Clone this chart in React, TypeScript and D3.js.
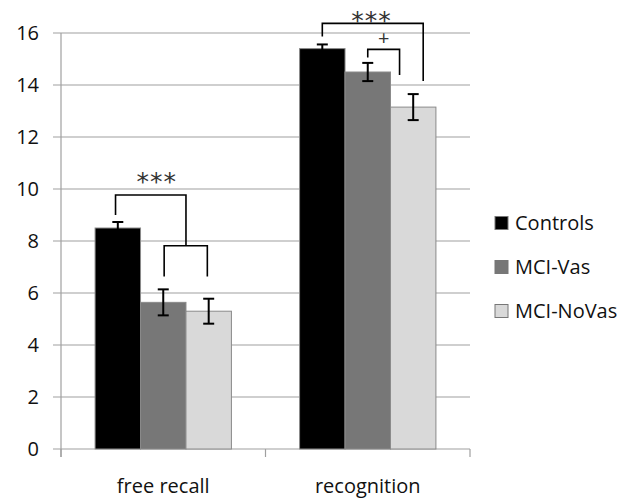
import React from 'react';
import * as d3 from 'd3';

const groups = ['free recall', 'recognition'];
const series = ['Controls', 'MCI-Vas', 'MCI-NoVas'];
const means = [
    [8.5, 5.64, 5.3],
    [15.4, 14.5, 13.15],
];
const errors = [
    [0.23, 0.5, 0.48],
    [0.16, 0.35, 0.5],
];
const yTicks = [0, 2, 4, 6, 8, 10, 12, 14, 16];
const colors = ['#000000', '#777777', '#d9d9d9'];

// significance brackets: ends given as [series, fraction of bar width], heights in data units
const brackets = [
    {group: 0, from: [0, 0.45], to: [1, 1.0], top: 9.77, leftEnd: 9.0, rightEnd: 7.82, label: '***', labelY: 10.45, labelShift: 0.13},
    {group: 0, from: [1, 0.52], to: [2, 0.47], top: 7.82, leftEnd: 6.63, rightEnd: 6.63, label: '', labelY: 0, labelShift: 0},
    {group: 1, from: [0, 0.5], to: [2, 0.72], top: 16.37, leftEnd: 15.87, rightEnd: 14.15, label: '***', labelY: 16.62, labelShift: -0.03},
    {group: 1, from: [1, 0.5], to: [2, 0.2], top: 15.37, leftEnd: 15.06, rightEnd: 14.38, label: '+', labelY: 15.83, labelShift: 0},
];

const W = 634;
const H = 498;
const margin = {left: 61, right: 164, top: 33, bottom: 49};
const font = '"Open Sans", sans-serif';

const App: React.FC = () => {
    const x0 = d3.scaleBand<string>()
        .domain(groups)
        .range([margin.left, W - margin.right]);
    // Excel style gap width of 150%
    const barW = x0.bandwidth() / (series.length + 1.5);
    const x1 = (s: number) => barW * 0.75 + s * barW;
    const y = d3.scaleLinear().domain([0, 16]).range([H - margin.bottom, margin.top]);
    const xAt = (g: number, s: number, f: number) => (x0(groups[g]) as number) + x1(s) + f * barW;

    return (
        <svg width={W} height={H} style={{position: 'absolute', left: 0, top: 0, background: '#fff'}}
             fontFamily={font}>
            {/* gridlines */}
            {yTicks.map(t => (
                <line key={t} x1={margin.left - 8} x2={W - margin.right} y1={y(t)} y2={y(t)}
                      stroke="#a0a0a0" strokeWidth={1.2}/>
            ))}
            {yTicks.map(t => (
                <text key={'l' + t} x={39} y={y(t)} dy="0.36em" textAnchor="end" fontSize={20} fill="#111">{t}</text>
            ))}
            {/* y axis */}
            <line x1={margin.left} x2={margin.left} y1={margin.top} y2={y(0) + 8} stroke="#a0a0a0" strokeWidth={1.2}/>
            {/* category ticks */}
            {[...groups.map(g => x0(g) as number), W - margin.right].map((v, i) => (
                <line key={'t' + i} x1={v} x2={v} y1={y(0)} y2={y(0) + 8} stroke="#a0a0a0" strokeWidth={1.2}/>
            ))}
            {/* bars */}
            {groups.map((g, gi) => series.map((s, si) => (
                <rect key={g + s} x={xAt(gi, si, 0)} y={y(means[gi][si])} width={barW}
                      height={y(0) - y(means[gi][si])} fill={colors[si]} stroke="#8a8a8a" strokeWidth={1}/>
            )))}
            {/* error bars */}
            {groups.map((g, gi) => series.map((s, si) => {
                const cx = xAt(gi, si, 0.5);
                const hi = y(means[gi][si] + errors[gi][si]);
                const lo = y(means[gi][si] - errors[gi][si]);
                return (
                    <g key={'e' + g + s} stroke="#000" strokeWidth={2}>
                        <line x1={cx} x2={cx} y1={hi} y2={lo}/>
                        <line x1={cx - 5.5} x2={cx + 5.5} y1={hi} y2={hi}/>
                        <line x1={cx - 5.5} x2={cx + 5.5} y1={lo} y2={lo}/>
                    </g>
                );
            }))}
            {/* significance brackets */}
            {brackets.map((b, i) => {
                const xl = xAt(b.group, b.from[0], b.from[1]);
                const xr = xAt(b.group, b.to[0], b.to[1]);
                const d = `M${xl},${y(b.leftEnd)}V${y(b.top)}H${xr}V${y(b.rightEnd)}`;
                const isPlus = b.label === '+';
                return (
                    <g key={'b' + i}>
                        <path d={d} fill="none" stroke="#000" strokeWidth={1.6}/>
                        {b.label && (
                            <text x={(xl + xr) / 2 + b.labelShift * barW} y={y(b.labelY)}
                                  dy={isPlus ? '0.36em' : '0.5em'}
                                  textAnchor="middle" fontSize={isPlus ? 20 : 25}
                                  fontFamily={isPlus ? font : '"DejaVu Sans", sans-serif'}
                                  fill="#333" letterSpacing={isPlus ? 0 : 1}>{b.label}</text>
                        )}
                    </g>
                );
            })}
            {/* x labels */}
            {groups.map(g => (
                <text key={'x' + g} x={(x0(g) as number) + x0.bandwidth() / 2} y={493} textAnchor="middle"
                      fontSize={20} fill="#111">{g}</text>
            ))}
            {/* legend */}
            {series.map((s, si) => (
                <g key={'lg' + s} transform={`translate(495, ${223 + si * 44})`}>
                    <rect x={0} y={-6.5} width={13} height={13} fill={colors[si]} stroke="#777" strokeWidth={1}/>
                    <text x={20} y={0} dy="0.36em" fontSize={20} fill="#111">{s}</text>
                </g>
            ))}
        </svg>
    );
};

export default App;
